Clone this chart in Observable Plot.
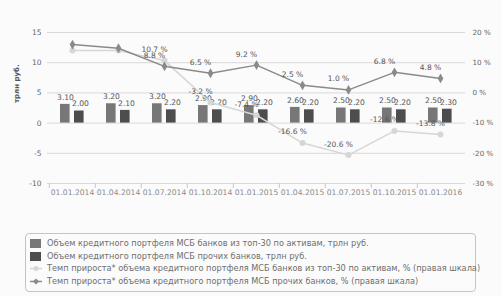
<!DOCTYPE html>
<html>
<head>
<meta charset="utf-8">
<script src="https://cdn.jsdelivr.net/npm/d3@7"></script>
<script src="https://cdn.jsdelivr.net/npm/@observablehq/plot@0.6"></script>
<style>
  html, body { margin: 0; padding: 0; background: #fbfbfb; }
  body { width: 502px; height: 296px; overflow: hidden; font-family: "DejaVu Sans", sans-serif; }
  #chart svg { display: block; background: #fbfbfb; }
  .legend { position: absolute; left: 25px; top: 233px; width: 451px; height: 59px; border: 1px solid #c4c4c4; border-radius: 4px; box-sizing: border-box; padding: 3px 0 0 4px; }
  .item { height: 12.7px; line-height: 12.7px; font-size: 8.2px; color: #6e6e6e; white-space: nowrap; display: flex; align-items: center; }
  .item svg { flex: none; margin-right: 5px; }
</style>
</head>
<body>
<div id="chart"></div>
<div class="legend" id="legend"></div>
<script>
const dates = ["01.01.2014","01.04.2014","01.07.2014","01.10.2014","01.01.2015","01.04.2015","01.07.2015","01.10.2015","01.01.2016"];
const top30Volume = [3.10, 3.20, 3.20, 2.90, 2.90, 2.60, 2.50, 2.50, 2.50];
const otherVolume = [2.00, 2.10, 2.20, 2.20, 2.20, 2.20, 2.20, 2.20, 2.30];
const top30Growth = [14.0, 14.0, 10.7, -3.2, -7.4, -16.6, -20.6, -12.6, -13.8];
const otherGrowth = [16.0, 14.8, 8.8, 6.5, 9.2, 2.5, 1.0, 6.8, 4.8];
const growthLabelled = [false, false, true, true, true, true, true, true, true];
const leftTicks = [-10, -5, 0, 5, 10, 15];
const rightTicks = [-30, -20, -10, 0, 10, 20];
const seriesNames = [
  "Объем кредитного портфеля МСБ банков из топ-30 по активам, трлн руб.",
  "Объем кредитного портфеля МСБ прочих банков, трлн руб.",
  "Темп прироста* объема кредитного портфеля МСБ банков из топ-30 по активам, % (правая шкала)",
  "Темп прироста* объема кредитного портфеля МСБ прочих банков, % (правая шкала)"
];
const yLabel = "трлн руб.";

const C_TOP = "#777777", C_OTH = "#4d4d4d", C_LTOP = "#d6d6d6", C_LOTH = "#8a8a8a";
// right-axis percent mapped onto left-axis units
const pct = p => (p + 10) / 2;

const rows = dates.map((d, i) => ({
  date: d, top: top30Volume[i], oth: otherVolume[i],
  gTop: pct(top30Growth[i]), gOth: pct(otherGrowth[i]),
  gTopRaw: top30Growth[i], gOthRaw: otherGrowth[i], lab: growthLabelled[i]
}));
const labelled = rows.filter(r => r.lab);
const fmtPct = v => v.toFixed(1) + " %";

const chart = Plot.plot({
  width: 502, height: 228,
  marginTop: 32, marginBottom: 45, marginLeft: 47, marginRight: 37,
  style: { fontFamily: "DejaVu Sans, sans-serif", background: "#fbfbfb" },
  x: { type: "band", domain: dates, padding: 0 },
  y: { domain: [-10, 15] },
  marks: [
    Plot.gridY(leftTicks, { stroke: "#d9d9d9", strokeOpacity: 1 }),
    Plot.axisY(leftTicks, { tickSize: 0, tickPadding: 6, fontSize: 7.5, fill: "#666", tickFormat: d => String(d), label: null }),
    Plot.axisY(leftTicks, { anchor: "right", tickSize: 0, tickPadding: 7, fontSize: 7.2, fill: "#666",
      tickFormat: d => `${2 * d - 10} %`, label: null }),
    Plot.axisX({ tickSize: 0, tickPadding: 6, fontSize: 7.6, fill: "#8a8a8a", label: null }),
    Plot.axisX({ tickSize: 5, dx: -23.2, text: null, stroke: "#c8c8c8", label: null }),
    Plot.text([yLabel], { frameAnchor: "left", rotate: -90, dx: -31, dy: -5, fontWeight: "bold", fontSize: 7, fill: "#555" }),
    Plot.barY(rows, { x: "date", y: "top", fill: C_TOP, insetLeft: 11, insetRight: 25.4 }),
    Plot.barY(rows, { x: "date", y: "oth", fill: C_OTH, insetLeft: 25, insetRight: 11.4 }),
    Plot.text(rows, { x: "date", y: "top", text: d => d.top.toFixed(2), dx: -7, dy: -7, fontSize: 7.6, fill: "#555" }),
    Plot.text(rows, { x: "date", y: "oth", text: d => d.oth.toFixed(2), dx: 8, dy: -7, fontSize: 7.6, fill: "#555" }),
    Plot.lineY(rows, { x: "date", y: "gTop", stroke: C_LTOP, strokeWidth: 1.5 }),
    Plot.dot(rows, { x: "date", y: "gTop", fill: C_LTOP, r: 3 }),
    Plot.lineY(rows, { x: "date", y: "gOth", stroke: C_LOTH, strokeWidth: 1.5 }),
    Plot.dot(rows, { x: "date", y: "gOth", fill: C_LOTH, symbol: "diamond", r: 3 }),
    Plot.text(labelled, { x: "date", y: "gTop", text: d => fmtPct(d.gTopRaw), dx: -10, dy: -11, fontSize: 7.5, fill: "#555" }),
    Plot.text(labelled, { x: "date", y: "gOth", text: d => fmtPct(d.gOthRaw), dx: -10, dy: -11, fontSize: 7.5, fill: "#555" })
  ]
});
document.getElementById("chart").appendChild(chart);

const legend = document.getElementById("legend");
const swatches = [
  `<svg width="12" height="9"><rect x="0" y="0" width="11" height="9" fill="${C_TOP}"/></svg>`,
  `<svg width="12" height="9"><rect x="0" y="0" width="11" height="9" fill="${C_OTH}"/></svg>`,
  `<svg width="12" height="9"><line x1="0" x2="12" y1="4.5" y2="4.5" stroke="${C_LTOP}" stroke-width="1.5"/><circle cx="6" cy="4.5" r="2.5" fill="${C_LTOP}"/></svg>`,
  `<svg width="12" height="9"><line x1="0" x2="12" y1="4.5" y2="4.5" stroke="${C_LOTH}" stroke-width="1.5"/><path d="M6,1.5L9,4.5L6,7.5L3,4.5Z" fill="${C_LOTH}"/></svg>`
];
seriesNames.forEach((name, i) => {
  const el = document.createElement("div");
  el.className = "item";
  el.innerHTML = swatches[i] + `<span>${name}</span>`;
  legend.appendChild(el);
});
</script>
</body>
</html>
